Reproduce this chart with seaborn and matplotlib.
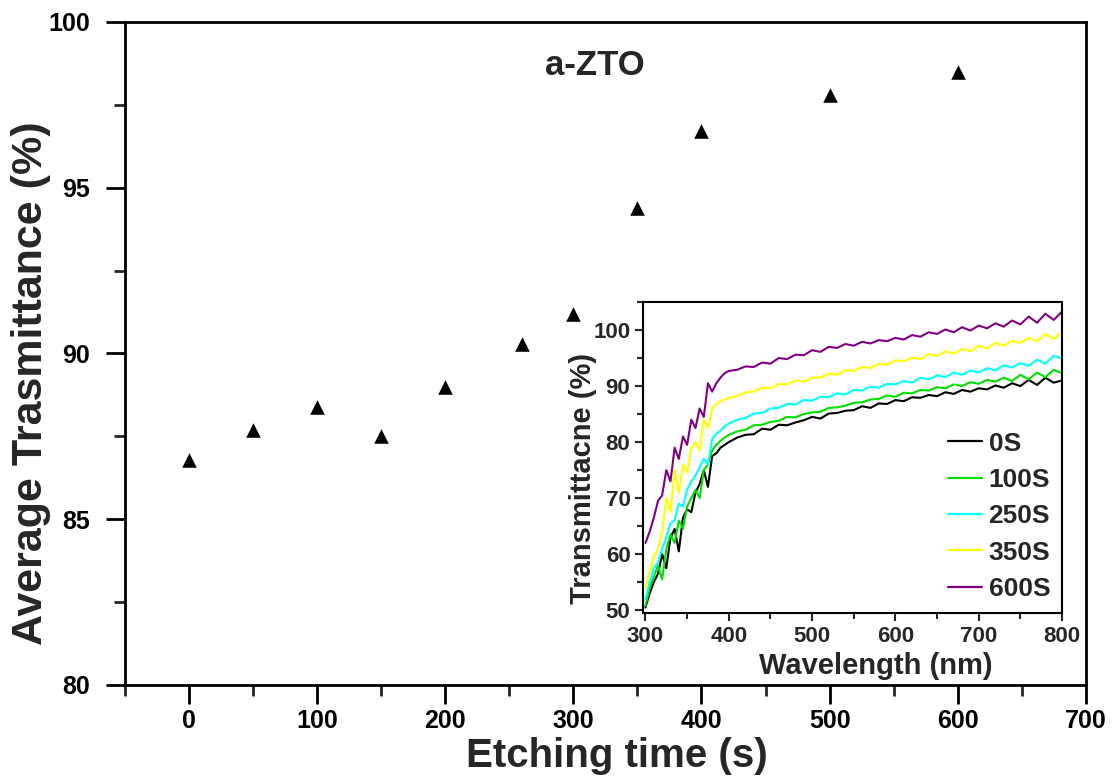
import matplotlib
matplotlib.use("Agg")
import matplotlib.pyplot as plt
import seaborn as sns
import pandas as pd
from matplotlib.ticker import MultipleLocator

# Average transmittance vs. etching time
etch_time = [0, 50, 100, 150, 200, 260, 300, 350, 400, 500, 600]
avg_trans = [86.8, 87.7, 88.4, 87.5, 89.0, 90.3, 91.2, 94.4, 96.7, 97.8, 98.5]

# Transmittance spectra (inset)
wavelength = [300, 305, 310, 315, 320, 325, 330, 335, 340, 345, 350, 355, 360, 365, 370,
              375, 380, 385, 390, 395, 400, 410, 420, 430, 440, 450, 460, 470, 480, 490,
              500, 510, 520, 530, 540, 550, 560, 570, 580, 590, 600, 610, 620, 630, 640,
              650, 660, 670, 680, 690, 700, 710, 720, 730, 740, 750, 760, 770, 780, 790, 800]

t_0s = [50.5, 53, 55, 56.5, 60, 57.5, 63, 64.5, 60.5, 66.5, 68, 67.5, 71, 72.5, 75,
        72, 77.5, 78, 79, 79.5, 80.0,
        80.8, 81.3, 81.4, 82.4, 82.2, 83.1, 83.0, 83.5, 83.9, 84.5,
        84.2, 85.1, 85.2, 85.6, 85.7, 86.4, 86.1, 86.9, 86.8, 87.5,
        87.3, 88.0, 87.9, 88.4, 88.2, 88.9, 88.6, 89.3, 89.0, 89.6,
        89.4, 90.1, 89.7, 90.5, 90.0, 91.1, 90.2, 91.5, 90.6, 91.0]

t_100s = [50.8, 54, 56, 58, 55.5, 61, 63.5, 62, 66, 64.5, 68.5, 70, 71.5, 70, 75,
          76, 78.5, 79.5, 80.2, 80.8, 81.3,
          81.9, 82.2, 83.0, 83.1, 83.6, 83.8, 84.5, 84.4, 85.0, 85.3,
          85.4, 86.1, 86.2, 86.5, 87.0, 87.1, 87.6, 87.7, 88.3, 88.1,
          88.8, 88.7, 89.3, 89.2, 89.8, 89.6, 90.3, 90.0, 90.7, 90.4,
          91.1, 90.8, 91.5, 90.9, 92.0, 91.2, 92.4, 91.6, 92.9, 92.3]

t_250s = [52, 55, 57.5, 58.5, 61, 63, 65.5, 66, 69, 68.5, 71.5, 73, 74, 75.5, 77,
          76, 80.5, 81.5, 82, 82.8, 83.3,
          84.0, 84.3, 85.1, 85.2, 86.0, 86.1, 86.8, 86.7, 87.5, 87.4,
          88.1, 88.0, 88.7, 88.5, 89.3, 89.2, 89.9, 89.7, 90.4, 90.3,
          90.9, 90.6, 91.5, 91.2, 91.9, 91.6, 92.4, 92.0, 92.8, 92.4,
          93.2, 92.8, 93.7, 93.3, 94.1, 93.6, 94.7, 94.0, 95.4, 94.9]

t_350s = [54, 57, 59.5, 61, 64, 70, 67.5, 75, 71, 76, 74.5, 79, 80, 78.5, 84,
          82.5, 86, 86.8, 87.3, 87.6, 87.9,
          88.2, 88.9, 89.0, 89.7, 89.6, 90.4, 90.3, 91.0, 90.8, 91.5,
          91.5, 92.2, 92.0, 92.8, 92.7, 93.4, 93.2, 94.0, 93.8, 94.6,
          94.4, 95.1, 94.8, 95.7, 95.4, 96.2, 95.8, 96.6, 96.2, 97.2,
          96.7, 97.7, 97.2, 98.1, 97.7, 98.6, 98.0, 99.3, 98.4, 99.6]

t_600s = [62, 64, 66.5, 69.5, 70.5, 75, 73, 79, 77, 81, 79.5, 84, 82.5, 86, 84.5,
          90.5, 89, 90.5, 91.5, 92.3, 92.7,
          92.9, 93.5, 93.4, 94.2, 94.0, 95.0, 94.8, 95.6, 95.5, 96.4,
          96.1, 97.0, 96.8, 97.5, 97.2, 97.9, 97.6, 98.2, 98.0, 98.6,
          98.3, 99.1, 98.8, 99.6, 99.3, 100.1, 99.6, 100.5, 99.9, 100.8,
          100.3, 101.2, 100.6, 101.7, 101.0, 102.4, 101.3, 102.9, 101.8, 103.3]

samples = ["0S", "100S", "250S", "350S", "600S"]
spectra = [t_0s, t_100s, t_250s, t_350s, t_600s]
colors = ["#000000", "#00e000", "#00ffff", "#ffff00", "#800080"]

main_df = pd.DataFrame({"time": etch_time, "trans": avg_trans})
spec_df = pd.concat(
    [pd.DataFrame({"wl": wavelength, "T": s, "sample": name}) for name, s in zip(samples, spectra)],
    ignore_index=True,
)

sns.set_theme(style="ticks")
plt.rcParams["font.family"] = ["Liberation Sans", "DejaVu Sans"]
plt.rcParams["font.weight"] = "bold"

fig = plt.figure(figsize=(11.13, 7.84), dpi=100)
ax = fig.add_axes([0.1119, 0.1263, 0.8639, 0.8457])

sns.scatterplot(data=main_df, x="time", y="trans", marker="^", color="black",
                s=110, edgecolor="black", linewidth=0, ax=ax, legend=False, zorder=3)

ax.set_xlim(-50, 700)
ax.set_ylim(80, 100)
ax.xaxis.set_major_locator(MultipleLocator(100))
ax.xaxis.set_minor_locator(MultipleLocator(50))
ax.yaxis.set_major_locator(MultipleLocator(5))
ax.yaxis.set_minor_locator(MultipleLocator(2.5))
ax.tick_params(which="major", direction="out", length=14, width=2, labelsize=18,
               colors="black")
ax.tick_params(which="minor", direction="out", length=8, width=2)
ax.tick_params(axis="x", which="major", pad=3)
ax.tick_params(axis="y", which="major", pad=11)
for lbl in ax.get_xticklabels() + ax.get_yticklabels():
    lbl.set_fontweight("bold")
for sp in ax.spines.values():
    sp.set_linewidth(2)
    sp.set_color("black")
ax.set_xlabel("Etching time (s)", fontsize=29, fontweight="bold")
ax.xaxis.set_label_coords(0.512, -0.078)
ax.set_ylabel("Average Trasmittance (%)", fontsize=31, fontweight="bold")
ax.yaxis.set_label_coords(-0.077, 0.4555)
ax.text(317, 98.70, "a-ZTO", fontsize=25, fontweight="bold", ha="center", va="center")

# Inset: transmittance spectra
ins = fig.add_axes([0.5777, 0.2181, 0.3765, 0.3967])
sns.lineplot(data=spec_df, x="wl", y="T", hue="sample", palette=colors,
             linewidth=1.5, ax=ins)
ins.set_xlim(297, 800)
ins.set_ylim(49.5, 105)
ins.xaxis.set_major_locator(MultipleLocator(100))
ins.xaxis.set_minor_locator(MultipleLocator(50))
ins.yaxis.set_major_locator(MultipleLocator(10))
ins.yaxis.set_minor_locator(MultipleLocator(5))
ins.tick_params(which="major", direction="out", length=6, width=1.5, labelsize=16, pad=3)
ins.tick_params(which="minor", direction="out", length=4, width=1.5)
for lbl in ins.get_xticklabels() + ins.get_yticklabels():
    lbl.set_fontweight("bold")
for sp in ins.spines.values():
    sp.set_linewidth(1.5)
    sp.set_color("black")
ins.set_xlabel("Wavelength (nm)", fontsize=21, fontweight="bold")
ins.xaxis.set_label_coords(0.556, -0.125)
ins.set_ylabel("Transmittacne (%)", fontsize=21, fontweight="bold")
ins.yaxis.set_label_coords(-0.110, 0.434)

leg = ins.legend(loc="lower right", frameon=False, handlelength=1.3,
                 handletextpad=0.25, labelspacing=0.47, borderaxespad=0.05,
                 prop={"weight": "bold", "size": 19})
for line in leg.get_lines():
    line.set_linewidth(1.6)

fig.savefig("out.png", dpi=100)
